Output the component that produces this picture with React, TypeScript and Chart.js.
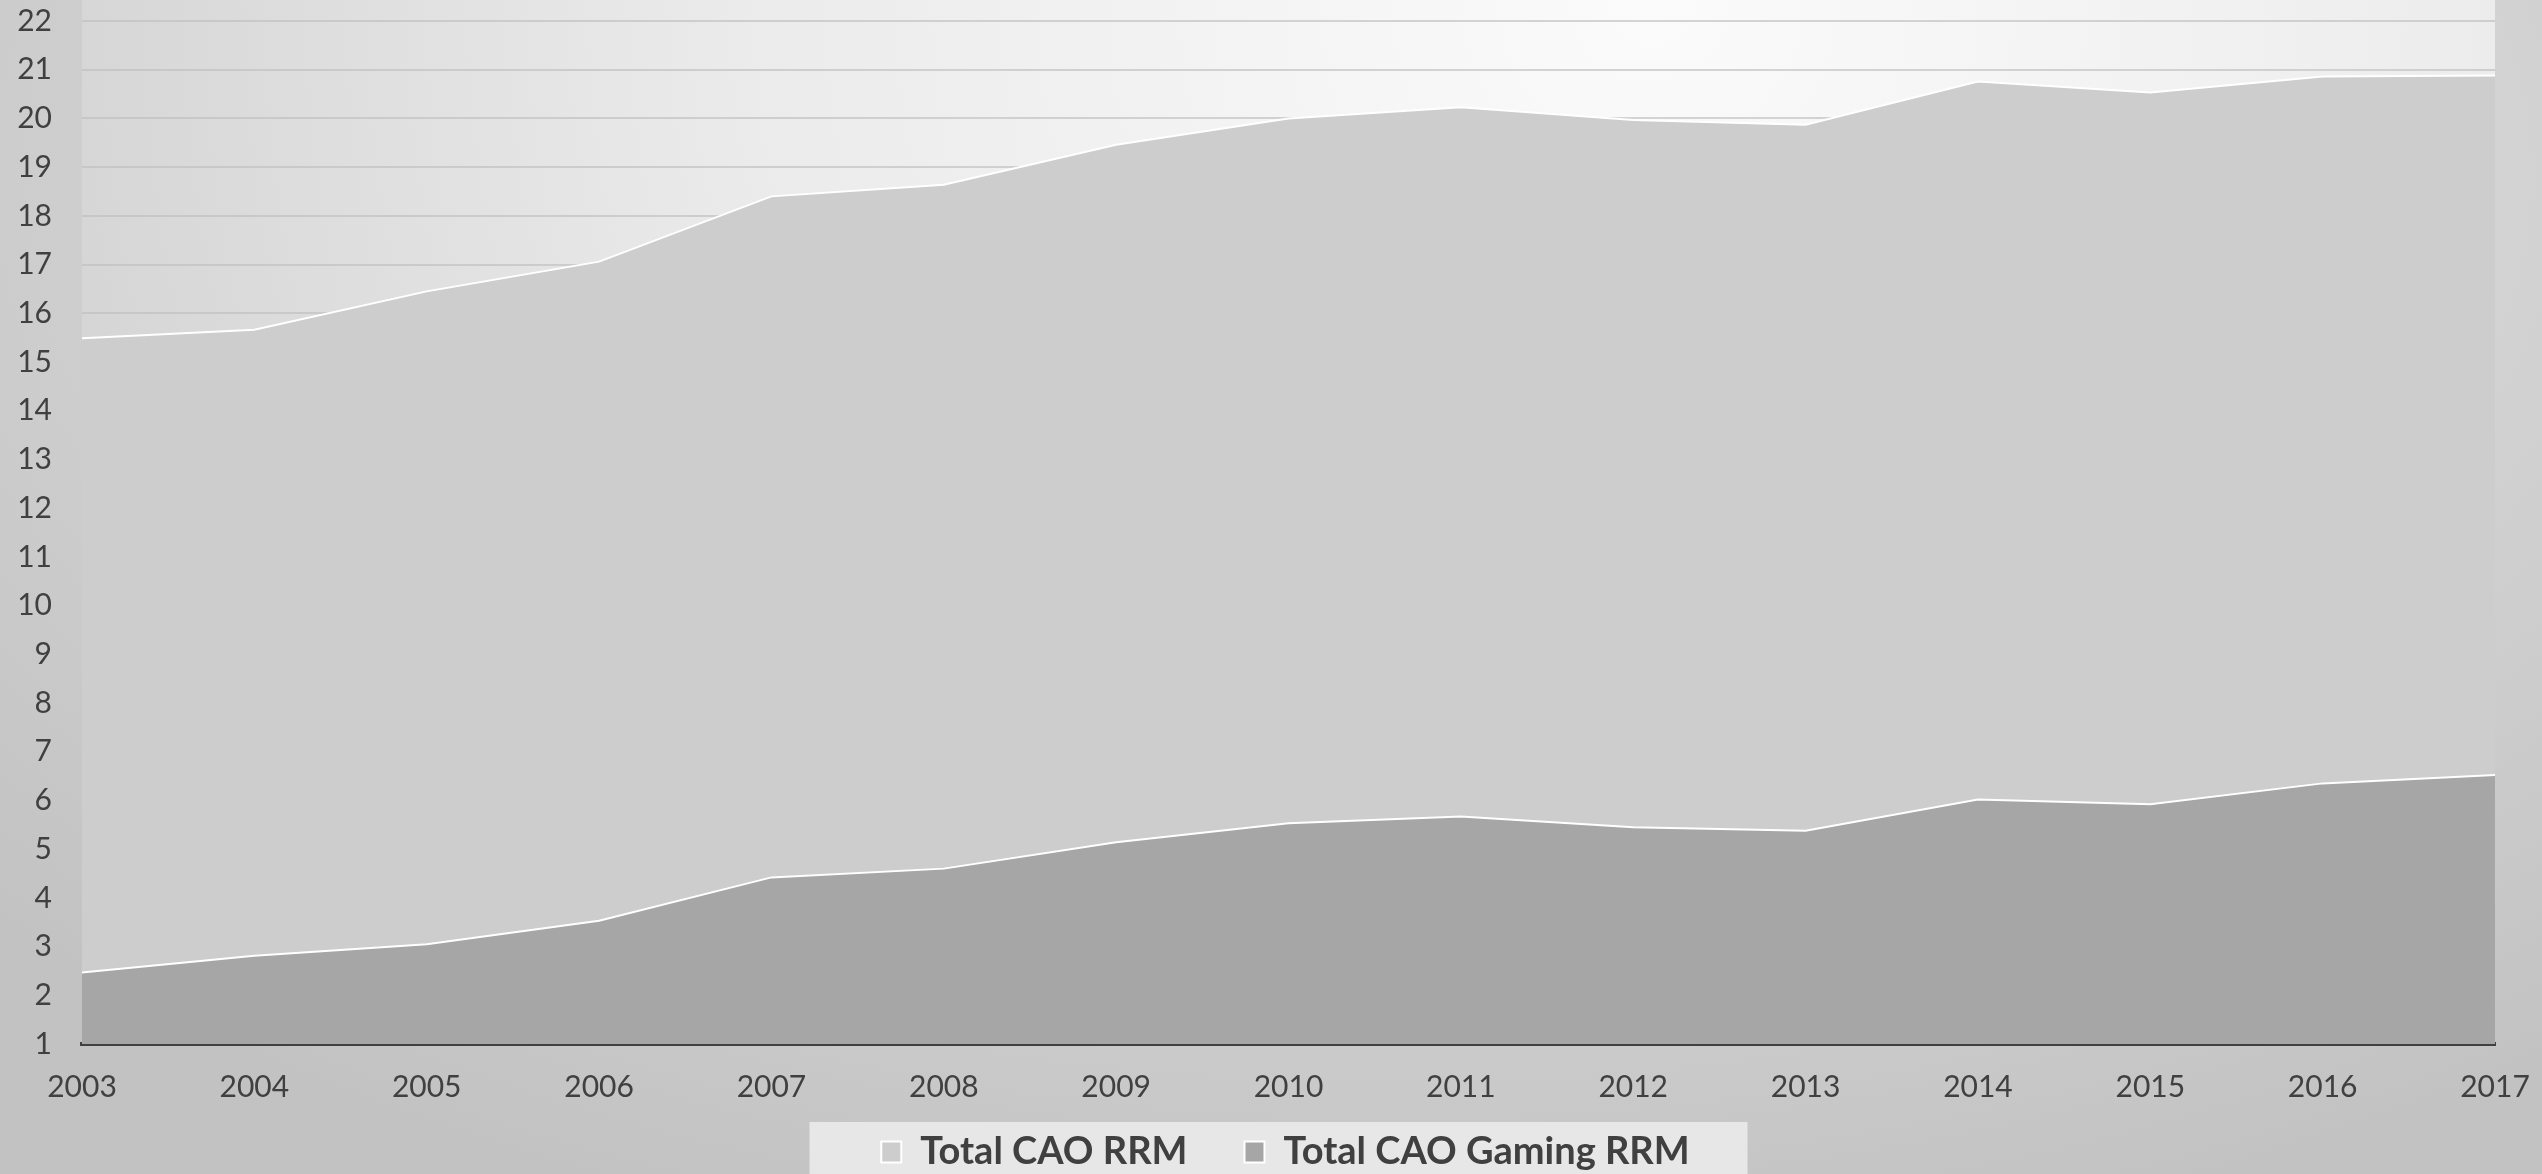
import { useEffect, useRef } from "react";
import { Chart, registerables } from "chart.js";

Chart.register(...registerables);

const years = ["2003", "2004", "2005", "2006", "2007", "2008", "2009", "2010", "2011", "2012", "2013", "2014", "2015", "2016", "2017"];
const totalCaoRrm = [15.49, 15.66, 16.45, 17.06, 18.4, 18.64, 19.46, 20.0, 20.23, 19.97, 19.87, 20.76, 20.53, 20.86, 20.88];
const totalCaoGamingRrm = [2.47, 2.81, 3.05, 3.53, 4.42, 4.6, 5.14, 5.53, 5.67, 5.45, 5.38, 6.02, 5.92, 6.35, 6.52];
const seriesNames = ["Total CAO RRM", "Total CAO Gaming RRM"];
const yMin = 1;
const yMax = 22;

const W = 2542;
const H = 1181;
const PLOT_BOTTOM = 1044;
const FONT = "Lato, 'Open Sans', sans-serif";
const TEXT = "#404040";
const LEGEND_PAD = 28; // vertical padding used for layout
const LEGEND_GAP = 57; // horizontal gap between legend items when drawn

const panelPlugin = {
  id: "panels",
  afterLayout(chart: any) {
    const lg = chart.legend;
    if (lg) {
      lg.left += 9;
      lg.right += 9;
    }
  },
  beforeDraw(chart: any) {
    const { ctx, chartArea, legend } = chart;
    ctx.save();
    const cx = 1650;
    const g = ctx.createRadialGradient(cx, 0, 0, cx, 0, 1650);
    g.addColorStop(0, "#fbfbfb");
    g.addColorStop(0.55, "#ebebeb");
    g.addColorStop(1, "#d4d4d4");
    ctx.fillStyle = g;
    ctx.fillRect(chartArea.left, 0, chartArea.right - chartArea.left, chartArea.bottom);
    if (legend) {
      const mid = (legend.left + legend.right) / 2;
      ctx.fillStyle = "rgba(236,236,236,0.85)";
      ctx.fillRect(mid + 22 - 469, legend.top + 17, 938, chart.height);
      legend.options.labels.padding = LEGEND_GAP;
      legend.top -= LEGEND_GAP - LEGEND_PAD;
    }
    ctx.restore();
  },
  afterDraw(chart: any) {
    const legend = chart.legend;
    if (legend) {
      legend.options.labels.padding = LEGEND_PAD;
      legend.top += LEGEND_GAP - LEGEND_PAD;
    }
  },
};

export default function App() {
  const ref = useRef<HTMLCanvasElement | null>(null);

  useEffect(() => {
    if (!ref.current) return;
    const chart = new Chart(ref.current, {
      type: "line",
      data: {
        labels: years,
        datasets: [
          {
            label: seriesNames[1],
            data: totalCaoGamingRrm,
            backgroundColor: "#a6a6a6",
            borderColor: "#ffffff",
            borderWidth: 2,
            fill: "start",
            pointRadius: 0,
            tension: 0,
          },
          {
            label: seriesNames[0],
            data: totalCaoRrm,
            backgroundColor: "#cdcdcd",
            borderColor: "#ffffff",
            borderWidth: 2,
            fill: "start",
            pointRadius: 0,
            tension: 0,
          },
        ],
      },
      options: {
        responsive: false,
        animation: false,
        devicePixelRatio: 1,
        layout: { padding: { top: 21, right: 47, left: 0, bottom: 0 } },
        plugins: {
          tooltip: { enabled: false },
          legend: {
            position: "bottom",
            labels: {
              sort: (a: any, b: any) => b.datasetIndex - a.datasetIndex,
              boxWidth: 20,
              boxHeight: 21,
              padding: LEGEND_PAD,
              color: TEXT,
              font: { family: FONT, size: 38, weight: "bold" },
            },
          },
        },
        scales: {
          x: {
            type: "category",
            offset: false,
            grid: { display: false, drawTicks: false },
            border: { display: true, color: "#404040", width: 4 },
            ticks: {
              color: TEXT,
              font: { family: FONT, size: 30 },
              padding: 25,
              maxRotation: 0,
              autoSkip: false,
            },
            afterFit: (scale: any) => {
              const lg = scale.chart.legend;
              scale.height = H - (lg ? lg.height : 0) - PLOT_BOTTOM;
              scale.paddingLeft = 0;
              scale.paddingRight = 0;
            },
          },
          y: {
            min: yMin,
            max: yMax,
            grid: { color: "rgba(190,190,190,0.65)", lineWidth: 2, drawTicks: false },
            border: { display: false },
            ticks: {
              stepSize: 1,
              color: TEXT,
              font: { family: FONT, size: 30 },
              padding: 30,
            },
            afterFit: (scale: any) => {
              scale.width = 82;
              scale.paddingTop = 0;
              scale.paddingBottom = 0;
            },
          },
        },
      },
      plugins: [panelPlugin],
    });
    return () => chart.destroy();
  }, []);

  return (
    <div
      style={{
        position: "fixed",
        left: 0,
        top: 0,
        width: 2542,
        height: 1174,
        overflow: "hidden",
        background:
          "radial-gradient(ellipse 75% 95% at 55% 15%, #e2e2e2 0%, #d4d4d4 55%, #c2c2c2 100%)",
      }}
    >
      <canvas ref={ref} width={W} height={H} style={{ display: "block", width: W, height: H }} />
    </div>
  );
}
